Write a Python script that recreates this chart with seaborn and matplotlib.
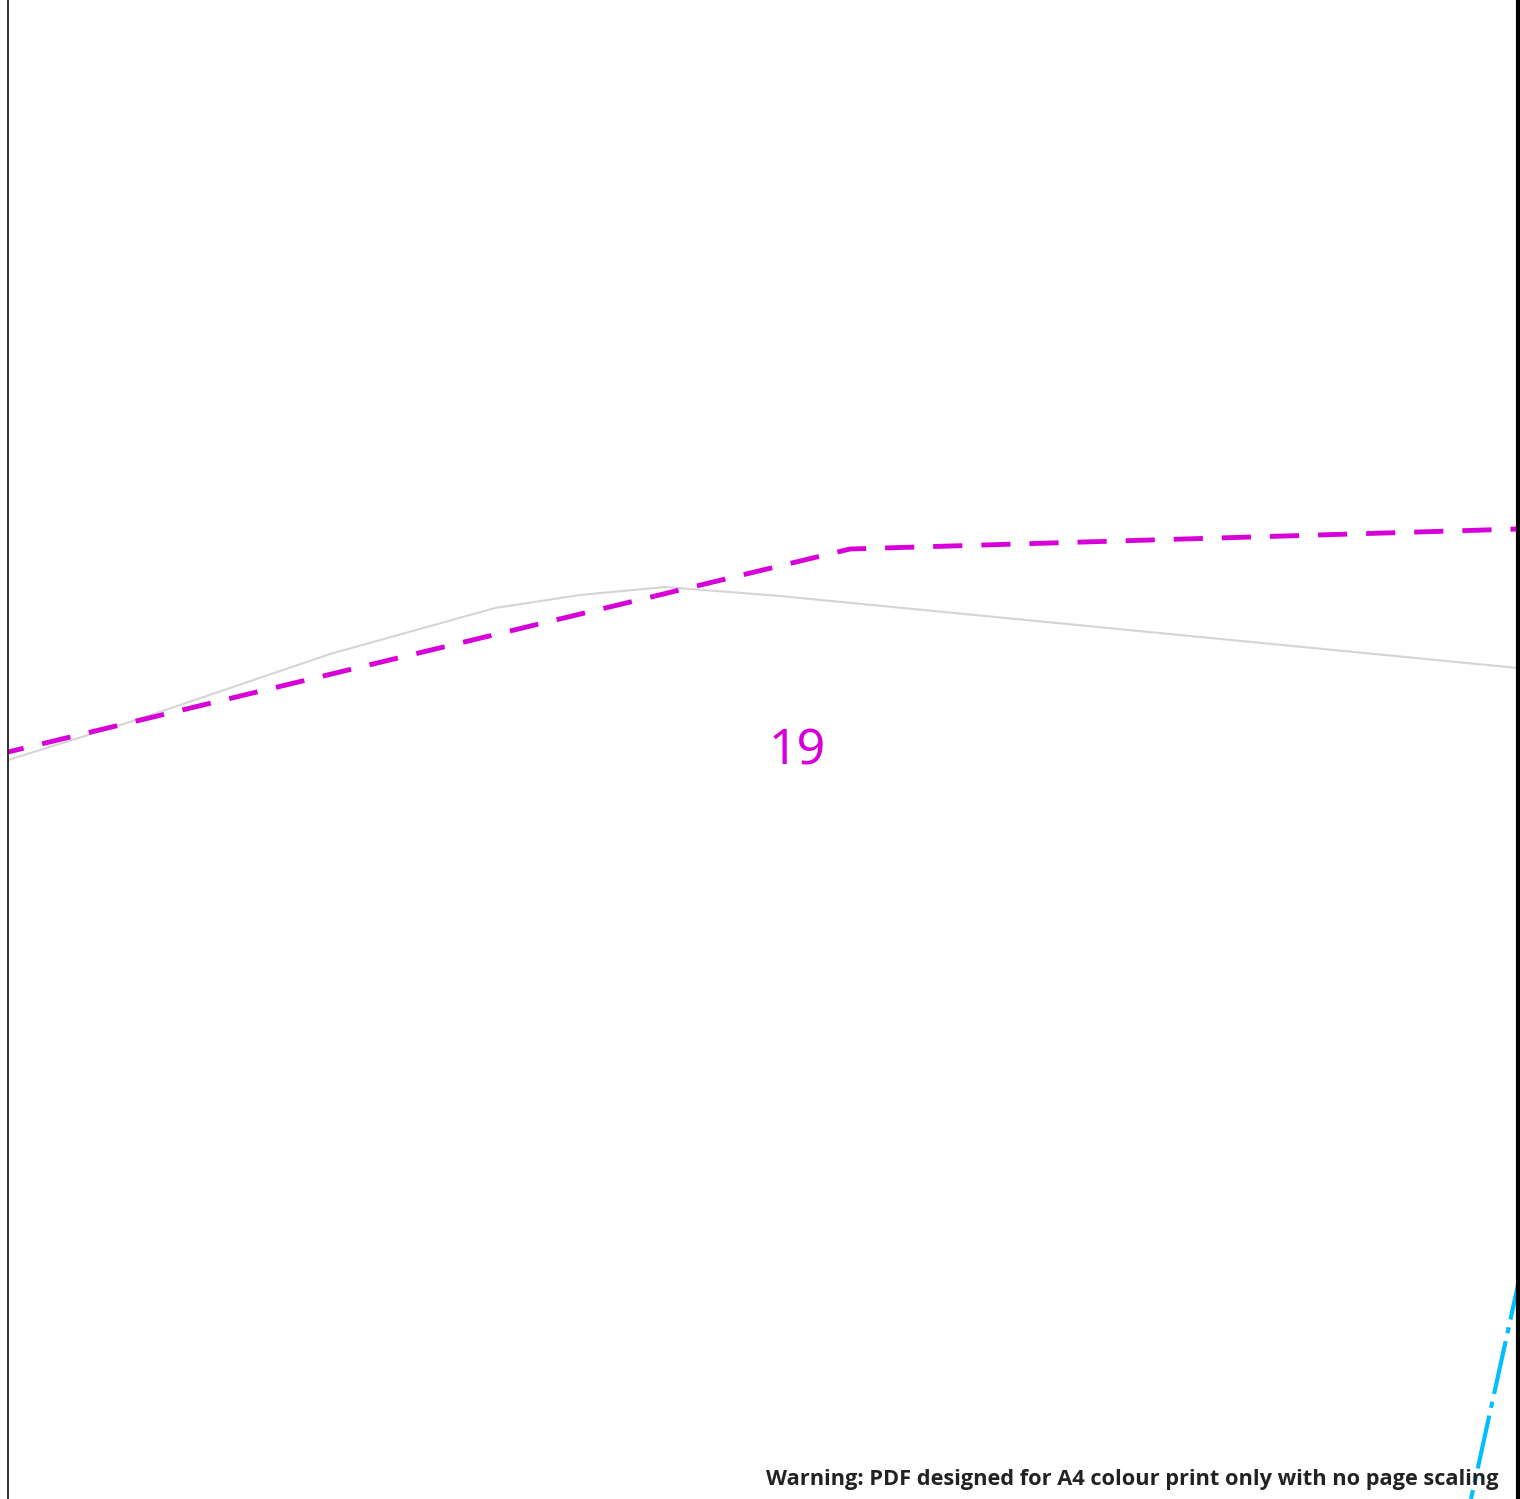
import pandas as pd
import seaborn as sns
import matplotlib.pyplot as plt

# x along the sheet, y up from the bottom edge
magenta_x = [0, 842, 1510]
magenta_y = [747, 950, 970]
grey_x = [0, 122, 322, 487, 572, 657, 772, 1510]
grey_y = [739, 777, 845, 891, 904, 912, 903, 831]
cyan_x = [1463, 1510]
cyan_y = [0, 214]

magenta = pd.DataFrame({"x": magenta_x, "y": magenta_y})
grey = pd.DataFrame({"x": grey_x, "y": grey_y})
cyan = pd.DataFrame({"x": cyan_x, "y": cyan_y})

sns.set_style("white")
plt.rcParams["font.family"] = ["Noto Sans", "DejaVu Sans"]

fig = plt.figure(figsize=(15.2, 14.99), dpi=100)
ax = fig.add_axes([8 / 1520, 0, 1510 / 1520, 1])

sns.lineplot(data=grey, x="x", y="y", color="#d6d4d4", linewidth=1.5,
             sort=False, estimator=None, ax=ax)
sns.lineplot(data=magenta, x="x", y="y", color="#d800d8", linewidth=3.5,
             sort=False, estimator=None, ax=ax, dashes=False,
             linestyle=(2.7, (6.0, 3.9)))
sns.lineplot(data=cyan, x="x", y="y", color="#00bfff", linewidth=3.0,
             sort=False, estimator=None, ax=ax, dashes=False,
             linestyle=(10.8, (13, 1.9, 1.5, 1.9)))

ax.set_xlim(0, 1510)
ax.set_ylim(0, 1499)
ax.set_xticks([])
ax.set_yticks([])
ax.set_xlabel("")
ax.set_ylabel("")

sns.despine(ax=ax, top=True, bottom=True, left=False, right=False)
ax.spines["left"].set_color("#222222")
ax.spines["left"].set_linewidth(1.3)
ax.spines["right"].set_color("black")
ax.spines["right"].set_linewidth(3)

ax.text(789, 748, "19", color="#d800d8", fontsize=36, ha="center", va="center")
ax.text(1491, 19, "Warning: PDF designed for A4 colour print only with no page scaling",
        color="#222222", fontsize=15.65, fontweight="bold", family=["Open Sans", "DejaVu Sans"],
        ha="right", va="center")

fig.savefig("out.png", dpi=100)
